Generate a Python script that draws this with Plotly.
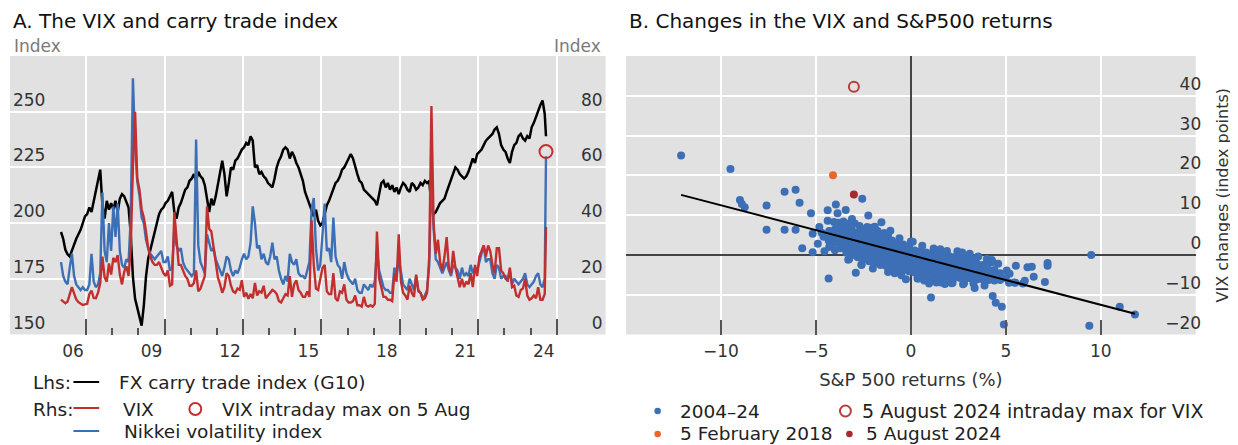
import numpy as np
import plotly.graph_objects as go

# the page body adds an 8 px margin, so the figure is drawn 8 px in from the window corner
OFF = 8
W, H = 1230, 437

# ---------------- Panel A: monthly readings, Jan 2006 .. Jul 2024, then 5 Aug 2024 ----------------
carry_g10 = [
    196, 193, 188, 186, 185, 188, 190, 193, 195, 197, 200, 203,   # 2006
    204, 207, 205, 210, 214, 220, 224, 208, 202, 210, 206, 209,   # 2007
    206, 210, 205, 211, 213, 212, 209, 207, 195, 176, 166, 162,   # 2008
    157, 154, 163, 176, 184, 188, 193, 197, 201, 204, 206, 207,   # 2009
    209, 210, 212, 214, 205, 202, 207, 209, 212, 215, 216, 219,   # 2010
    220, 222, 219, 223, 221, 220, 217, 210, 205, 211, 208, 212,   # 2011
    218, 224, 228, 222, 212, 218, 225, 224, 228, 229, 231, 233,   # 2012
    234, 236, 235, 239, 237, 225, 226, 222, 223, 221, 220, 218,   # 2013
    217, 216, 220, 225, 228, 230, 233, 234, 233, 229, 232, 230,   # 2014
    227, 225, 222, 219, 214, 211, 209, 205, 203, 206, 201, 199,   # 2015
    200, 204, 208, 210, 213, 216, 218, 219, 221, 224, 225, 227,   # 2016
    229, 231, 229, 225, 222, 219, 218, 215, 214, 213, 212, 211,   # 2017
    210, 208, 213, 218, 219, 216, 218, 215, 217, 214, 216, 213,   # 2018
    216, 218, 217, 215, 214, 218, 217, 215, 216, 218, 217, 219,   # 2019
    218, 219, 207, 204, 205, 207, 209, 210, 211, 214, 217, 220,   # 2020
    223, 225, 224, 222, 221, 220, 221, 223, 226, 229, 227, 231,   # 2021
    232, 233, 235, 237, 238, 239, 240, 242, 243, 240, 235, 233,   # 2022
    232, 229, 227, 232, 235, 236, 239, 240, 238, 237, 239, 238,   # 2023
    243, 245, 248, 250, 253, 255, 249,                            # 2024 Jan-Jul
    239,                                                          # 5 Aug 2024
]

vix = [
    12.5, 11.8, 11.2, 11.8, 14.5, 17.0, 14.8, 12.6, 11.6, 11.0, 10.6, 10.8,   # 2006
    11.0, 14.5, 15.8, 13.1, 13.0, 15.0, 18.5, 28.0, 20.5, 19.0, 25.5, 21.5,   # 2007
    27.5, 26.0, 28.5, 21.5, 18.0, 22.5, 24.5, 21.0, 31.0, 60.0, 80.0, 56.0,   # 2008
    52.0, 45.0, 42.0, 37.0, 31.0, 28.0, 26.0, 25.0, 25.0, 26.0, 24.0, 22.0,   # 2009
    21.0, 23.0, 17.5, 18.0, 44.0, 33.0, 25.0, 25.0, 23.0, 21.0, 20.0, 17.5,   # 2010
    17.5, 18.5, 23.0, 15.5, 16.5, 19.0, 21.0, 46.0, 38.0, 37.0, 31.0, 25.0,   # 2011
    20.5, 18.0, 15.0, 17.0, 22.0, 21.0, 17.5, 15.5, 15.0, 16.5, 16.0, 19.5,   # 2012
    13.5, 15.0, 12.8, 14.5, 13.0, 18.5, 14.0, 15.5, 15.0, 17.5, 13.0, 14.0,   # 2013
    15.0, 16.0, 15.5, 14.5, 12.0, 11.5, 13.0, 14.5, 14.0, 21.0, 13.5, 18.0,   # 2014
    19.5, 16.0, 15.0, 13.5, 13.5, 15.5, 13.5, 41.0, 25.0, 16.5, 16.0, 19.5,   # 2015
    24.0, 25.0, 15.5, 14.5, 14.5, 22.0, 13.0, 12.0, 15.5, 15.0, 18.0, 12.5,   # 2016
    11.5, 11.5, 12.0, 14.0, 10.5, 10.5, 10.0, 13.5, 10.5, 10.0, 10.5, 10.0,   # 2017
    11.0, 37.0, 20.0, 17.0, 13.5, 13.5, 12.5, 12.5, 12.0, 22.0, 19.0, 36.0,   # 2018
    19.0, 15.0, 14.0, 12.5, 17.5, 15.0, 13.5, 21.5, 15.5, 15.0, 12.5, 13.0,   # 2019
    15.0, 28.0, 82.0, 40.0, 29.0, 34.0, 26.0, 23.0, 28.0, 35.0, 24.0, 22.0,   # 2020
    30.0, 24.0, 21.0, 17.0, 20.0, 17.0, 19.0, 18.0, 22.0, 17.0, 25.0, 21.0,   # 2021
    28.0, 30.0, 32.0, 28.0, 32.0, 30.0, 25.0, 22.0, 31.0, 31.0, 23.0, 22.0,   # 2022
    20.0, 19.5, 24.0, 17.0, 17.5, 14.0, 13.5, 16.0, 16.5, 20.0, 14.0, 12.5,   # 2023
    13.0, 14.0, 13.0, 17.0, 12.5, 12.5, 14.5,                                 # 2024 Jan-Jul
    38.6,                                                                     # 5 Aug 2024
]

nikkei_vi = [
    26, 21, 19, 18, 24, 29, 21, 18, 17, 16, 17, 16,   # 2006
    16, 18, 29, 19, 17, 18, 22, 51, 30, 26, 40, 30,   # 2007
    46, 35, 47, 30, 25, 24, 27, 26, 42, 92, 68, 55,   # 2008
    50, 42, 40, 34, 31, 29, 28, 27, 28, 29, 30, 26,   # 2009
    26, 28, 23, 24, 38, 32, 30, 31, 26, 24, 23, 22,   # 2010
    21, 22, 70, 32, 26, 24, 22, 36, 33, 30, 31, 27,   # 2011
    25, 23, 21, 24, 28, 27, 23, 21, 23, 22, 24, 27,   # 2012
    29, 27, 28, 33, 46, 40, 31, 32, 27, 29, 26, 25,   # 2013
    28, 33, 27, 28, 23, 20, 18, 21, 19, 29, 26, 25,   # 2014
    27, 22, 21, 21, 20, 23, 26, 45, 49, 31, 23, 25,   # 2015
    36, 47, 30, 31, 26, 42, 28, 25, 24, 20, 26, 22,   # 2016
    20, 19, 18, 20, 16, 15, 15, 18, 17, 16, 18, 17,   # 2017
    19, 30, 23, 20, 17, 16, 16, 15, 15, 24, 21, 27,   # 2018
    22, 18, 17, 16, 20, 18, 16, 21, 16, 15, 13, 14,   # 2019
    16, 25, 58, 38, 27, 26, 24, 22, 24, 26, 23, 21,   # 2020
    25, 24, 23, 20, 24, 21, 22, 21, 25, 22, 24, 23,   # 2021
    26, 28, 32, 26, 27, 27, 22, 20, 25, 24, 20, 21,   # 2022
    21, 19, 23, 18, 20, 19, 18, 19, 20, 22, 18, 17,   # 2023
    18, 19, 21, 22, 18, 17, 20,                       # 2024 Jan-Jul
    64,                                               # 5 Aug 2024
]

# time axis: month midpoints (decimal years) and 5 Aug 2024
n_months = len(carry_g10) - 1
t_months = 2006 + (np.arange(n_months) + 0.5) / 12
t_aug5 = 2024.59
t_axis = list(t_months) + [t_aug5]

vix_intraday_max_t = [2024.59]
vix_intraday_max_v = [65.7]

year_ticks = [2007, 2010, 2013, 2016, 2019, 2022, 2025]
year_labels = ["06", "09", "12", "15", "18", "21", "24"]
minor_years = [2008, 2009, 2011, 2012, 2014, 2015, 2017, 2018, 2020, 2021, 2023, 2024]
lhs_ticks = [150, 175, 200, 225, 250]
rhs_ticks = [0, 20, 40, 60, 80]

# ---------------- Panel B: S&P 500 daily returns (%) vs VIX changes (index points) ----------------
outlier_x = [-12.1, -9.5, -9.0, -8.9, -8.75, -7.6, -7.6, -6.65, -6.07, -6.65, -6.07, -5.86,
             -5.72, -5.17, -5.26, -5.17, -4.82, -4.9, -4.33, -4.38, -4.38, -3.95, -3.86, -3.43,
             -4.33, -2.9, -2.56, -2.24, -1.55, -1.08, -0.26, 1.06, 0.96, 1.79, 4.31, 3.36, 3.88,
             5.53, 6.14, 5.45, 6.0, 9.5, 9.4, 11.0, 11.8, 4.9, 4.79, 4.47, 6.37, 6.47, 7.2, 7.2,
             7.06, 5.2, 5.17, 5.5, 5.9, 4.16, 4.26, -4.6, -4.05, -3.1, -1.9,
             -4.7, -4.55, -3.55, -2.95, -2.05, -1.2, -0.85, 0.35, 0.7, 1.35, 2.15, 2.75, 3.1,
             3.55, 4.0, 4.6, 5.05, -3.25, -2.6, 0.0, 1.55, 2.45,
             -3.8, -3.2, -2.7, -2.3, -1.75, -1.4, -0.6, 0.1, 0.6, 1.2, 1.9, 2.7, 3.4, 4.3,
             0.4, 1.0, 1.6, 2.2, 2.8, 3.3, -0.5, -1.2, -2.0, -2.6, -3.3]
outlier_y = [25.0, 21.6, 13.8, 12.8, 12.0, 12.4, 6.3, 15.9, 16.4, 6.3, 6.3, 13.1,
             1.7, 0.7, 10.5, 5.3, 7.0, 2.8, 3.6, 11.2, 8.6, 12.7, 10.5, 11.3,
             -5.9, -4.5, 14.1, 9.9, 8.2, 6.1, -6.1, -10.7, -7.2, -7.3, -10.3, -8.3, -7.7,
             -2.7, -3.1, -6.9, -6.5, 0.0, -17.8, -13.0, -15.0, -17.5, -13.0, -12.0, -3.0, -5.5, -2.0, -2.7,
             -6.8, -4.7, -7.0, -7.0, -7.2, -1.9, -1.3, 4.6, 8.3, 9.0, 7.1,
             5.6, 0.9, 8.4, 7.9, 6.8, 5.1, -4.6, -5.9, -6.4, -6.9, -7.1, -7.4, 0.3,
             -0.4, -1.0, -2.2, -3.9, -1.0, -2.5, 3.4, 1.4, 0.9,
             8.1, 8.0, 7.3, 7.0, 6.0, 5.5, 4.2, 3.3, 2.3, 1.6, 1.0, 0.6, -0.9, -1.8,
             -5.9, -6.6, -6.9, -7.0, -7.1, -7.2, -5.1, -4.3, -3.4, -2.4, -1.2]

# dense cloud of days, read column by column (x) with the y values seen in each column
cloud_cols_x = [-4.3, -4.0, -3.7, -3.4, -3.1, -2.8, -2.5, -2.2, -1.9, -1.6, -1.3, -1.0, -0.7, -0.4,
                -0.1, 0.2, 0.5, 0.8, 1.1, 1.4, 1.7, 2.0, 2.3, 2.6, 2.9, 3.2, 3.5, 3.8, 4.1, 4.4, 4.7, 5.0]
cloud_cols_y = [
    [2.0, 4.2, 6.0],
    [1.2, 3.0, 4.6, 6.4],
    [1.7, 3.4, 5.0, 6.6],
    [0.6, 2.2, 3.8, 5.4, 7.0],
    [0.0, 1.5, 3.1, 4.7, 6.2],
    [-0.6, 1.0, 2.5, 4.0, 5.6],
    [-1.0, 0.4, 1.9, 3.5, 5.1, 6.3],
    [-1.6, -0.1, 1.4, 2.9, 4.4, 5.5],
    [-2.0, -0.5, 1.0, 2.5, 3.9, 5.0],
    [-2.5, -1.0, 0.5, 2.0, 3.4, 4.6],
    [-2.8, -1.3, 0.1, 1.6, 3.0, 4.0],
    [-3.2, -1.7, -0.3, 1.2, 2.6, 3.6],
    [-3.5, -2.0, -0.6, 0.8, 2.2, 3.0],
    [-3.8, -2.4, -1.0, 0.4, 1.8, 2.6],
    [-4.1, -2.7, -1.3, 0.1, 1.4, 2.2],
    [-4.4, -3.0, -1.6, -0.2, 1.1],
    [-4.7, -3.3, -1.9, -0.5, 0.9],
    [-5.0, -3.6, -2.2, -0.8, 0.6],
    [-5.3, -3.9, -2.5, -1.1, 0.4],
    [-5.4, -4.1, -2.7, -1.3, 0.1],
    [-5.5, -4.2, -2.9, -1.5, -0.1],
    [-5.6, -4.3, -3.0, -1.7, -0.3],
    [-5.7, -4.4, -3.1, -1.8, -0.5],
    [-5.8, -4.5, -3.2, -1.9, -0.6],
    [-5.9, -4.6, -3.3, -2.0, -0.8],
    [-6.0, -4.7, -3.4, -2.1, -1.0],
    [-6.1, -4.8, -3.5, -2.3],
    [-6.2, -4.9, -3.6, -2.5],
    [-6.3, -5.0, -3.7],
    [-6.4, -5.1, -3.8],
    [-6.3, -4.6],
    [-5.8],
]

feb2018_x, feb2018_y = [-4.1], [20.0]
aug2024_x, aug2024_y = [-3.0], [15.2]
aug2024_max_x, aug2024_max_y = [-3.0], [42.3]

fit_x = [-12.1, 11.8]
fit_y = [15.1, -14.8]

spx_ticks = [-15, -10, -5, 0, 5, 10, 15]
spx_labels = ["", "\u221210", "\u22125", "0", "5", "10", "15"]
vixchg_ticks = [-20, -10, 0, 10, 20, 30, 40]

# ---------------- styling ----------------
FONT = "DejaVu Sans"
BLUE = "#3d6fb6"
RED = "#c22f2f"
BG = "#e1e1e1"
TICKC = "#333333"


def fx(p):
    return (p - OFF) / W


def fy(p):
    return 1 - (p - OFF) / H


ydom = [fy(334.5), fy(56)]
xdomA = [fx(10), fx(611)]
xdomB = [fx(631.6), fx(1206.4)]

fig = go.Figure()

# Panel A traces
fig.add_trace(go.Scatter(x=t_axis, y=nikkei_vi, mode="lines", line=dict(color=BLUE, width=2.4),
                         xaxis="x", yaxis="y2", showlegend=False))
fig.add_trace(go.Scatter(x=t_axis, y=vix, mode="lines", line=dict(color=RED, width=2.4),
                         xaxis="x", yaxis="y2", showlegend=False))
fig.add_trace(go.Scatter(x=t_axis, y=carry_g10, mode="lines", line=dict(color="#000000", width=2.5),
                         xaxis="x", yaxis="y", showlegend=False))
fig.add_trace(go.Scatter(x=vix_intraday_max_t, y=vix_intraday_max_v, mode="markers",
                         marker=dict(symbol="circle-open", size=13, color=RED, line=dict(width=2)),
                         xaxis="x", yaxis="y2", showlegend=False))

# Panel B traces
cloud_x = [cx for cx, ys in zip(cloud_cols_x, cloud_cols_y) for _ in ys]
cloud_y = [v for ys in cloud_cols_y for v in ys]
fig.add_trace(go.Scatter(x=outlier_x + cloud_x, y=outlier_y + cloud_y, mode="markers",
                         marker=dict(size=8, color=BLUE), xaxis="x3", yaxis="y3", showlegend=False))
fig.add_trace(go.Scatter(x=fit_x, y=fit_y, mode="lines", line=dict(color="#000000", width=2),
                         xaxis="x3", yaxis="y3", showlegend=False))
fig.add_trace(go.Scatter(x=feb2018_x, y=feb2018_y, mode="markers", marker=dict(size=8, color="#e8672a"),
                         xaxis="x3", yaxis="y3", showlegend=False))
fig.add_trace(go.Scatter(x=aug2024_x, y=aug2024_y, mode="markers", marker=dict(size=8, color="#a8282c"),
                         xaxis="x3", yaxis="y3", showlegend=False))
fig.add_trace(go.Scatter(x=aug2024_max_x, y=aug2024_max_y, mode="markers",
                         marker=dict(symbol="circle-open", size=10, color="#b83c3c", line=dict(width=2)),
                         xaxis="x3", yaxis="y3", showlegend=False))

tickfont = dict(family=FONT, size=17, color=TICKC)

fig.update_layout(
    width=W, height=H, margin=dict(l=0, r=0, t=0, b=0),
    paper_bgcolor="white", plot_bgcolor=BG,
    font=dict(family=FONT, color="#222"),
    xaxis=dict(domain=xdomA, range=[2004.09, 2026.87], anchor="y",
               tickmode="array", tickvals=year_ticks, ticktext=year_labels,
               ticks="inside", ticklen=16, tickwidth=1.5, tickcolor="#555",
               ticklabelshift=-13, ticklabelstandoff=4,
               showgrid=True, gridcolor="white", gridwidth=1.5, zeroline=False, showline=False,
               tickfont=tickfont,
               minor=dict(tickmode="array", tickvals=minor_years, ticks="inside", ticklen=7,
                          tickwidth=1.5, tickcolor="#555", showgrid=False)),
    yaxis=dict(domain=ydom, range=[150, 275], anchor="x", tickmode="array", tickvals=lhs_ticks,
               ticklabelposition="inside top", ticks="", showgrid=True, gridcolor="white",
               gridwidth=1.5, zeroline=False, showline=False, tickfont=tickfont),
    yaxis2=dict(overlaying="y", side="right", anchor="x", range=[0, 100], tickmode="array",
                tickvals=rhs_ticks, ticklabelposition="inside top", ticks="", showgrid=False,
                zeroline=False, showline=False, tickfont=tickfont),
    xaxis3=dict(domain=xdomB, range=[-15, 15], anchor="y3", tickmode="array",
                tickvals=spx_ticks, ticktext=spx_labels, ticks="inside", ticklen=15,
                tickwidth=1.5, tickcolor="#555", ticklabelstandoff=4,
                showgrid=True, gridcolor="white", gridwidth=1.5,
                zeroline=True, zerolinecolor="#444", zerolinewidth=1.5, showline=False,
                tickfont=tickfont,
                title=dict(text="S&P 500 returns (%)", font=dict(family=FONT, size=18, color=TICKC),
                           standoff=13)),
    yaxis3=dict(domain=ydom, range=[-20, 50], anchor="free", position=fx(1215), side="right",
                tickmode="array", tickvals=vixchg_ticks, ticklabelposition="inside top", ticks="",
                showgrid=True, gridcolor="white", gridwidth=1.5,
                zeroline=True, zerolinecolor="#444", zerolinewidth=1.5, showline=False,
                tickfont=tickfont,
                title=dict(text="VIX changes (index points)", font=dict(family=FONT, size=16, color=TICKC),
                           standoff=16)),
)

ann = []


def text(x, y, s, size=18.5, color="#222", anchor="left"):
    ann.append(dict(x=fx(x), y=fy(y), xref="paper", yref="paper", text=s, showarrow=False,
                    xanchor=anchor, yanchor="middle", font=dict(family=FONT, size=size, color=color)))


text(11, 21, "A. The VIX and carry trade index", size=20, color="#111")
text(633, 21, "B. Changes in the VIX and S&P500 returns", size=20, color="#111")
text(12, 46, "Index", size=17, color="#7a7a7a")
text(608, 46, "Index", size=17, color="#7a7a7a", anchor="right")

# Panel A legend
text(31, 382, "Lhs:")
text(118, 382, "FX carry trade index (G10)")
text(31, 409, "Rhs:")
text(122, 409, "VIX")
text(222, 409, "VIX intraday max on 5 Aug")
text(123, 431, "Nikkei volatility index")

# Panel B legend
text(684, 411, "2004\u201324", size=18.5)
text(868, 411, "5 August 2024 intraday max for VIX", size=19)
text(684, 433, "5 February 2018", size=18.5)
text(872, 433, "5 August 2024", size=18.5)

shapes = []


def hline(x0, x1, y, color):
    shapes.append(dict(type="line", xref="paper", yref="paper", x0=fx(x0), x1=fx(x1), y0=fy(y), y1=fy(y),
                       line=dict(color=color, width=2)))


def dot(x, y, r, color, filled=True):
    shapes.append(dict(type="circle", xref="paper", yref="paper", x0=fx(x - r), x1=fx(x + r),
                       y0=fy(y + r), y1=fy(y - r), fillcolor=color if filled else "rgba(0,0,0,0)",
                       line=dict(color=color, width=0 if filled else 2)))


hline(74, 100, 382, "#000000")
hline(74, 100, 408, RED)
hline(74, 100, 431, BLUE)
dot(197, 409, 6, RED, filled=False)
dot(663.5, 411, 3.3, BLUE)
dot(663.5, 434, 3.3, "#e8672a")
dot(853, 411, 5.5, "#b83c3c", filled=False)
dot(857, 434, 3.3, "#a8282c")

fig.update_layout(annotations=ann, shapes=shapes)

fig.write_html("out.html")
